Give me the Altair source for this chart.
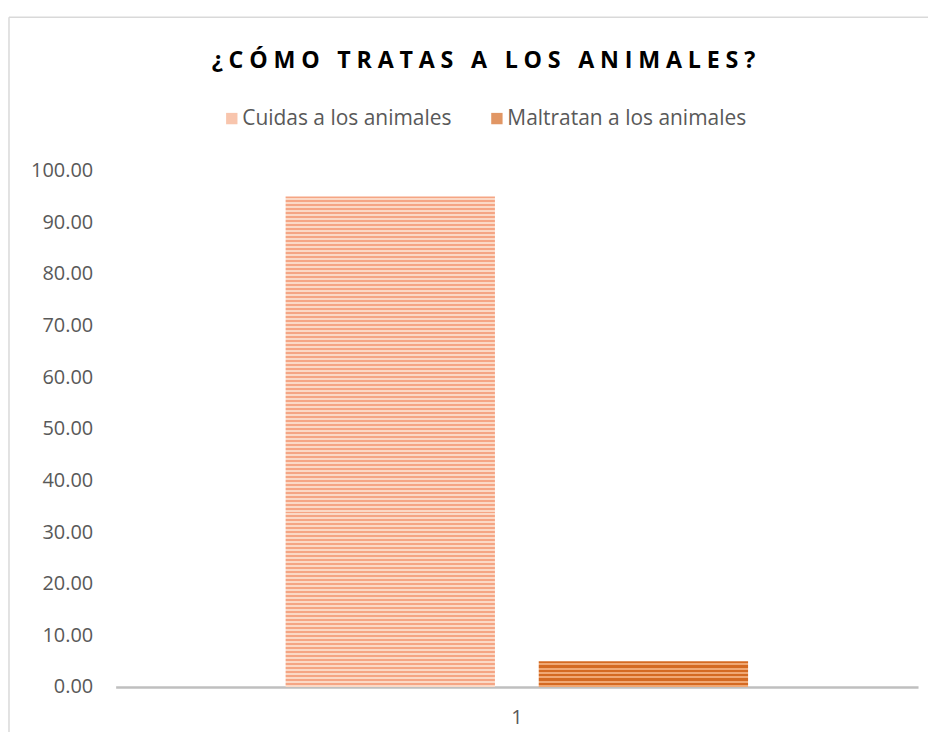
import altair as alt
import pandas as pd

categories = ["1"]
series = ["Cuidas a los animales", "Maltratan a los animales"]
values = [95.0, 5.0]
y_ticks = [0, 10, 20, 30, 40, 50, 60, 70, 80, 90, 100]
title_text = "¿CÓMO TRATAS A LOS ANIMALES?"

df = pd.DataFrame({"cat": [categories[0]] * 2, "serie": series, "valor": values})

W, H = 805, 518
PERIOD = 4.0

def stripes(dark, light, value):
    px = H * value / 100.0
    n = max(1, int(round(px / PERIOD)))
    stops = []
    for i in range(n):
        a = i / n
        m = (i + 0.5) / n
        b = (i + 1) / n
        stops += [alt.GradientStop(offset=a, color=dark), alt.GradientStop(offset=m, color=dark),
                  alt.GradientStop(offset=m, color=light), alt.GradientStop(offset=b, color=light)]
    return alt.LinearGradient(gradient="linear", x1=0, y1=0, x2=0, y2=1, stops=stops)

solid = ["#F5AC8A", "#D46A22"]
grad1 = stripes("#F5A584", "#FBD9C6", values[0])
grad2 = stripes("#D46A22", "#F0A874", values[1])

FONT = "Open Sans"
x_enc = alt.X("cat:N", title=None,
              scale=alt.Scale(paddingInner=0, paddingOuter=0.3675),
              axis=alt.Axis(labelAngle=0, ticks=False, domainColor="#BFBFBF", domainWidth=2.5,
                            labelFontSize=20, labelColor="#595959", labelFont=FONT, labelPadding=21))
xo_enc = alt.XOffset("serie:N", sort=series, scale=alt.Scale(domain=series, paddingInner=0.173, paddingOuter=0))
y_enc = alt.Y("valor:Q", title=None,
              scale=alt.Scale(domain=[0, 100], nice=False),
              axis=alt.Axis(values=y_ticks, format=".2f", grid=False, domain=False, ticks=False,
                            labelFontSize=20, labelColor="#595959", labelFont=FONT, labelPadding=23))

base = alt.Chart(df)

border_top = base.mark_rule(stroke="#D9D9D9", strokeWidth=1.5).encode(
    x=alt.value(-107), x2=alt.value(2000), y=alt.value(-154)
).transform_filter(alt.datum.serie == series[0])
border_left = base.mark_rule(stroke="#D9D9D9", strokeWidth=1.5).encode(
    x=alt.value(-107), y=alt.value(-154), y2=alt.value(2000)
).transform_filter(alt.datum.serie == series[0])

title_layer = base.mark_text(text="\u2005".join(title_text), fontSize=23.3, fontWeight="bold",
                             font=FONT, color="#000000", align="center",
                             baseline="alphabetic").encode(
    x=alt.value(369), y=alt.value(-103)
).transform_filter(alt.datum.serie == series[0])

bar1 = base.mark_bar(color=grad1).encode(x=x_enc, xOffset=xo_enc, y=y_enc).transform_filter(
    alt.datum.serie == series[0])
bar2 = base.mark_bar(color=grad2).encode(x=x_enc, xOffset=xo_enc, y=y_enc).transform_filter(
    alt.datum.serie == series[1])

legend_layer = base.mark_square(size=0).encode(
    color=alt.Color("serie:N", scale=alt.Scale(domain=series, range=solid),
                    legend=alt.Legend(title=None, orient="none", direction="horizontal",
                                      legendX=106, legendY=-63, symbolType="square", symbolSize=130,
                                      symbolStrokeWidth=0, labelFontSize=21, labelColor="#595959",
                                      labelFont=FONT, labelOffset=0, columnPadding=35,
                                      labelLimit=400))
).transform_filter("false")

chart = alt.layer(border_top, border_left, title_layer, bar1, bar2, legend_layer).properties(
    width=W, height=H,
    autosize=alt.AutoSizeParams(type="none"),
    padding={"left": 108, "top": 162, "right": 10, "bottom": 44},
).configure_view(stroke=None)

chart.save("out.html", embed_options={"renderer": "svg", "actions": False})
